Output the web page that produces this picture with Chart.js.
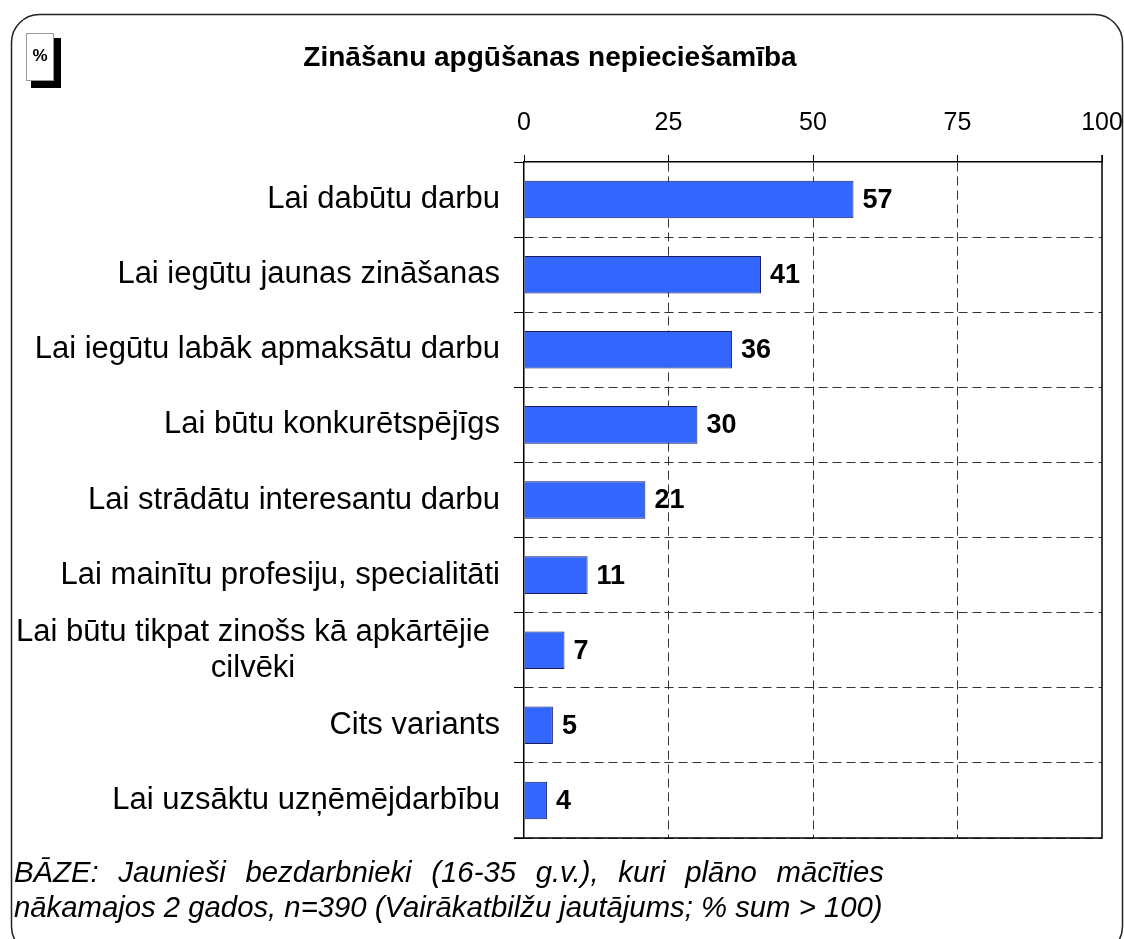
<!DOCTYPE html>
<html>
<head>
<meta charset="utf-8">
<script src="https://cdn.jsdelivr.net/npm/chart.js@4/dist/chart.umd.min.js"></script>
<style>
  body { margin: 0; background: #fff; }
  canvas { display: block; }
</style>
</head>
<body>
<canvas id="chart" width="1124" height="939"></canvas>
<script>
// data
const categories = [
    'Lai dabūtu darbu',
    'Lai iegūtu jaunas zināšanas',
    'Lai iegūtu labāk apmaksātu darbu',
    'Lai būtu konkurētspējīgs',
    'Lai strādātu interesantu darbu',
    'Lai mainītu profesiju, specialitāti',
    ['Lai būtu tikpat zinošs kā apkārtējie', 'cilvēki'],
    'Cits variants',
    'Lai uzsāktu uzņēmējdarbību'
];
const values = [57, 41, 36, 30, 21, 11, 7, 5, 4];
const xTicks = [0, 25, 50, 75, 100];

const titleText = 'Zināšanu apgūšanas nepieciešamība';
const footerLines = [
    'BĀZE: Jaunieši bezdarbnieki (16-35 g.v.), kuri plāno mācīties',
    'nākamajos 2 gados, n=390 (Vairākatbilžu jautājums; % sum > 100)'
];

const FONT = '"Liberation Sans", Arial, sans-serif';

// ========== Decorations ==========

const decorPlugin = {
    id: 'decor',
    beforeDraw(chart) {
        const ctx = chart.ctx;
        ctx.save();
        // rounded frame
        ctx.strokeStyle = '#222';
        ctx.lineWidth = 1.5;
        ctx.beginPath();
        ctx.roundRect(11.5, 14.5, 1111, 940, 28);
        ctx.stroke();

        // % box with shadow
        ctx.fillStyle = '#000';
        ctx.fillRect(31, 38, 30, 50);
        ctx.fillStyle = '#fff';
        ctx.fillRect(26, 33, 28, 48);
        ctx.strokeStyle = '#999';
        ctx.lineWidth = 1;
        ctx.strokeRect(26.5, 33.5, 27, 47);
        ctx.fillStyle = '#000';
        ctx.font = 'bold 17px ' + FONT;
        ctx.textAlign = 'center';
        ctx.textBaseline = 'middle';
        ctx.fillText('%', 40, 56);

        // title
        ctx.font = 'bold 28px ' + FONT;
        ctx.textBaseline = 'alphabetic';
        ctx.fillText(titleText, 550, 66);
        ctx.restore();
    },
    afterDraw(chart) {
        const ctx = chart.ctx;
        const area = chart.chartArea;
        const y = chart.scales.y;
        ctx.save();

        // solid right and bottom frame of the plot
        ctx.strokeStyle = '#000';
        ctx.lineWidth = 1.5;
        ctx.beginPath();
        ctx.moveTo(area.right, area.top - 7);
        ctx.lineTo(area.right, area.bottom);
        ctx.lineTo(area.left - 10, area.bottom);
        ctx.stroke();

        // category labels
        ctx.fillStyle = '#000';
        ctx.font = '31px ' + FONT;
        ctx.textBaseline = 'middle';
        categories.forEach((label, i) => {
            const cy = y.getPixelForValue(i);
            const right = area.left - 24;
            if (Array.isArray(label)) {
                const w = Math.max(...label.map(l => ctx.measureText(l).width));
                const cx = right - 10 - w / 2;
                ctx.textAlign = 'center';
                label.forEach((l, k) => {
                    ctx.fillText(l, cx, cy + (k - (label.length - 1) / 2) * 36);
                });
            } else {
                ctx.textAlign = 'right';
                ctx.fillText(label, right, cy);
            }
        });

        // value labels
        ctx.font = 'bold 27px ' + FONT;
        ctx.textAlign = 'left';
        const meta = chart.getDatasetMeta(0);
        meta.data.forEach((bar, i) => {
            ctx.fillText(String(values[i]), bar.x + 9, bar.y + 1);
        });

        // footer (first line justified)
        ctx.font = 'italic 29.3px ' + FONT;
        ctx.textBaseline = 'alphabetic';
        ctx.textAlign = 'left';
        const words = footerLines[0].split(' ');
        const wordsW = words.reduce((s, w) => s + ctx.measureText(w).width, 0);
        const gap = (884 - 14 - wordsW) / (words.length - 1);
        let fx = 14;
        words.forEach(w => {
            ctx.fillText(w, fx, 882);
            fx += ctx.measureText(w).width + gap;
        });
        ctx.fillText(footerLines[1], 14, 917);
        ctx.restore();
    }
};

// ========== Chart ==========

new Chart(document.getElementById('chart'), {
    type: 'bar',
    data: {
        labels: categories,
        datasets: [{
            data: values,
            backgroundColor: '#3366ff',
            borderColor: '#1c1c5c',
            borderWidth: 1,
            barPercentage: 0.5,
            categoryPercentage: 1
        }]
    },
    options: {
        indexAxis: 'y',
        responsive: false,
        animation: false,
        layout: { padding: { top: 0, left: 0, right: 22, bottom: 101 } },
        plugins: {
            legend: { display: false },
            tooltip: { enabled: false }
        },
        scales: {
            x: {
                position: 'top',
                min: 0,
                max: 100,
                afterBuildTicks: (scale) => { scale.ticks = xTicks.map(v => ({ value: v })); },
                afterFit: (scale) => {
                    scale.height = 162;
                    scale.paddingLeft = 0;
                    scale.paddingRight = 0;
                },
                ticks: {
                    color: '#000',
                    font: { family: FONT, size: 25 },
                    padding: 17
                },
                grid: {
                    color: (c) => (c.tick && (c.tick.value === 0 || c.tick.value === 100)) ? 'rgba(0,0,0,0)' : '#333',
                    tickColor: '#000',
                    tickLength: 7,
                    lineWidth: 1
                },
                border: { color: '#000', width: 1.5, dash: [9, 5] }
            },
            y: {
                afterFit: (scale) => {
                    scale.width = 524;
                    scale.paddingTop = 0;
                    scale.paddingBottom = 0;
                },
                ticks: { display: false },
                grid: {
                    offset: true,
                    color: (c) => c.index === 0 ? 'rgba(0,0,0,0)' : '#333',
                    tickColor: '#000',
                    tickLength: 10,
                    lineWidth: 1
                },
                border: { color: '#000', width: 1.5, dash: [9, 5] }
            }
        }
    },
    plugins: [decorPlugin]
});
</script>
</body>
</html>
